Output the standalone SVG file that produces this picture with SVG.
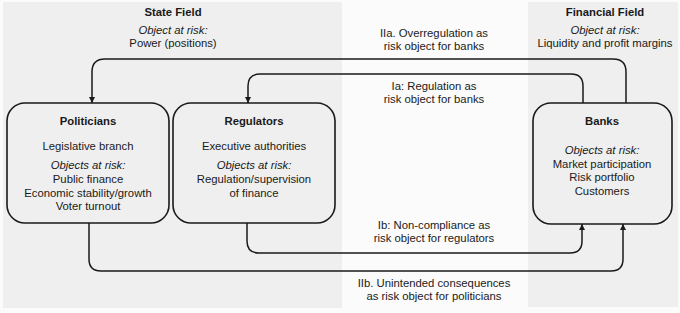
<svg xmlns="http://www.w3.org/2000/svg" width="680" height="313" viewBox="0 0 680 313">
<defs>
<style>
text{font-family:"Liberation Sans",Arial,sans-serif;font-size:11.3px;fill:#1a1a1a;text-anchor:middle}
.b{font-weight:bold}
.i{font-style:italic}
.node{fill:#efefef;stroke:#1a1a1a;stroke-width:1.6}
.field{fill:#efefef}
.conn{fill:none;stroke:#1a1a1a;stroke-width:1.5;marker-end:url(#arr)}
</style>
<marker id="arr" viewBox="0 0 10 10" refX="10" refY="5" markerWidth="4" markerHeight="4" orient="auto" markerUnits="strokeWidth">
<path d="M0,0 L10,5 L0,10 z" fill="#1a1a1a"/>
</marker>
</defs>
<rect width="680" height="313" fill="#fbfbfb"/>
<g id="state-field">
<rect class="field" x="3" y="2" width="339" height="306"/>
<text class="b" x="173" y="16">State Field</text>
<text class="i" x="173" y="34">Object at risk:</text>
<text x="173" y="47">Power (positions)</text>
</g>
<g id="financial-field">
<rect class="field" x="528" y="2" width="150" height="305"/>
<text class="b" x="605" y="16">Financial Field</text>
<text class="i" x="605" y="34">Object at risk:</text>
<text x="605" y="47">Liquidity and profit margins</text>
</g>
<g id="connectors">
<path class="conn" d="M626,103 V72 Q626,59 613,59 H105 Q92,59 92,72 V103"/>
<path class="conn" d="M583,103 V86 Q583,74 571,74 H260 Q248,74 248,86 V103"/>
<path class="conn" d="M247,223 V241 Q247,253 259,253 H570 Q582,253 582,241 V224"/>
<path class="conn" d="M89,223 V259 Q89,271 101,271 H611 Q623,271 623,259 V224"/>
<text x="434" y="37">IIa. Overregulation as</text>
<text x="434" y="50">risk object for banks</text>
<text x="434" y="90">Ia: Regulation as</text>
<text x="434" y="103">risk object for banks</text>
<text x="434" y="229">Ib: Non-compliance as</text>
<text x="434" y="242">risk object for regulators</text>
<text x="434" y="287">IIb. Unintended consequences</text>
<text x="434" y="300">as risk object for politicians</text>
</g>
<g id="politicians">
<rect class="node" x="7" y="103" width="162" height="120" rx="18"/>
<text class="b" x="88" y="125">Politicians</text>
<text x="88" y="150">Legislative branch</text>
<text class="i" x="88" y="169">Objects at risk:</text>
<text x="88" y="183">Public finance</text>
<text x="88" y="197">Economic stability/growth</text>
<text x="88" y="210">Voter turnout</text>
</g>
<g id="regulators">
<rect class="node" x="173" y="103" width="162" height="120" rx="18"/>
<text class="b" x="254" y="125">Regulators</text>
<text x="254" y="150">Executive authorities</text>
<text class="i" x="254" y="169">Objects at risk:</text>
<text x="254" y="183">Regulation/supervision</text>
<text x="254" y="197">of finance</text>
</g>
<g id="banks">
<rect class="node" x="533" y="103" width="139" height="121" rx="18"/>
<text class="b" x="602" y="125">Banks</text>
<text class="i" x="602" y="154">Objects at risk:</text>
<text x="602" y="167.5">Market participation</text>
<text x="602" y="181">Risk portfolio</text>
<text x="602" y="194.5">Customers</text>
</g>
</svg>
